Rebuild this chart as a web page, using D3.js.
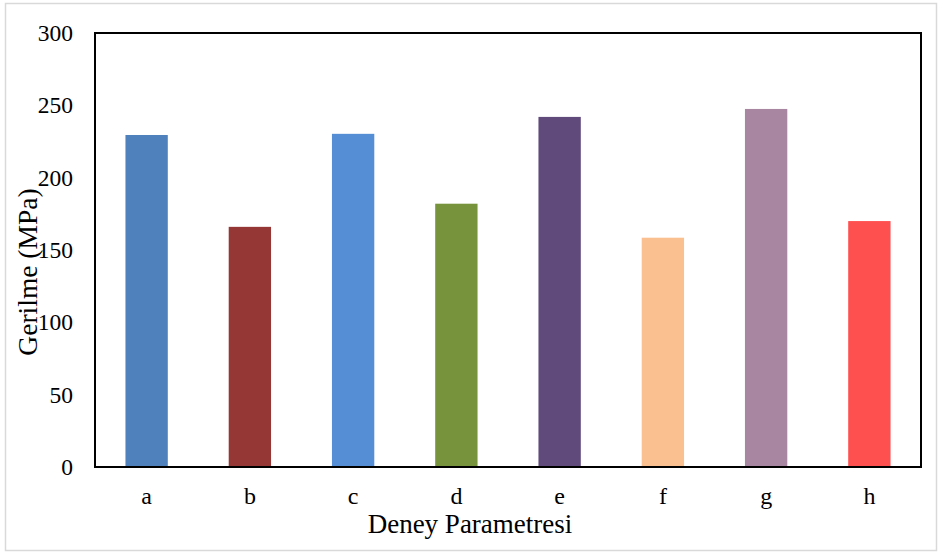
<!DOCTYPE html>
<html>
<head>
<meta charset="utf-8">
<script src="https://cdn.jsdelivr.net/npm/d3@7"></script>
<style>
  html, body { margin: 0; padding: 0; background: #fff; }
  svg { display: block; }
  text { font-family: "Liberation Serif", "Times New Roman", serif; fill: #000; }
</style>
</head>
<body>
<svg id="chart" width="940" height="553"></svg>
<script>
// Tensile stress per test parameter
const categories = ["a", "b", "c", "d", "e", "f", "g", "h"];
const stressValues = [229.5, 166, 230.3, 182, 242, 158.5, 247.5, 170];
const barColors = ["#4f81bd", "#953735", "#558ed5", "#77933c", "#604a7b", "#fac090", "#a886a2", "#ff5050"];
const yTicks = [0, 50, 100, 150, 200, 250, 300];
const yTitle = "Gerilme (MPa)";
const xTitle = "Deney Parametresi";

const svg = d3.select("#chart");
const W = 940, H = 553;

// outer chart border
svg.append("rect")
  .attr("x", 5.5).attr("y", 3.5)
  .attr("width", W - 9).attr("height", H - 6)
  .attr("fill", "#fff").attr("stroke", "#d9d9d9").attr("stroke-width", 1.5);

const plot = { left: 95, top: 33, right: 921, bottom: 467 };

const x = d3.scaleBand()
  .domain(categories)
  .range([plot.left, plot.right])
  .paddingInner(0.59)
  .paddingOuter(0.295);

const y = d3.scaleLinear()
  .domain([0, 300])
  .range([plot.bottom, plot.top]);

// bars
svg.append("g").selectAll("rect")
  .data(categories)
  .join("rect")
  .attr("x", d => x(d))
  .attr("width", x.bandwidth())
  .attr("y", (d, i) => y(stressValues[i]))
  .attr("height", (d, i) => y(0) - y(stressValues[i]))
  .attr("fill", (d, i) => barColors[i]);

// y axis labels
const yAxis = svg.append("g")
  .attr("transform", `translate(${plot.left},0)`)
  .call(d3.axisLeft(y).tickValues(yTicks).tickSize(0).tickPadding(22));
yAxis.select(".domain").remove();
yAxis.selectAll("text")
  .style("font-family", "'Liberation Serif', serif")
  .style("font-size", "23.5px")
  .attr("fill", "#000");

// x axis labels
const xAxis = svg.append("g")
  .attr("transform", `translate(0,${plot.bottom})`)
  .call(d3.axisBottom(x).tickSize(0).tickPadding(20));
xAxis.select(".domain").remove();
xAxis.selectAll("text")
  .style("font-family", "'Liberation Serif', serif")
  .style("font-size", "24px")
  .attr("fill", "#000");

// plot frame
svg.append("rect")
  .attr("x", plot.left).attr("y", plot.top)
  .attr("width", plot.right - plot.left)
  .attr("height", plot.bottom - plot.top)
  .attr("fill", "none").attr("stroke", "#000").attr("stroke-width", 2);

// axis titles
svg.append("text")
  .attr("x", 470)
  .attr("y", 533)
  .attr("text-anchor", "middle")
  .style("font-size", "27px")
  .text(xTitle);

svg.append("text")
  .attr("transform", `translate(37,272) rotate(-90)`)
  .attr("text-anchor", "middle")
  .style("font-size", "27.5px")
  .text(yTitle);
</script>
</body>
</html>
